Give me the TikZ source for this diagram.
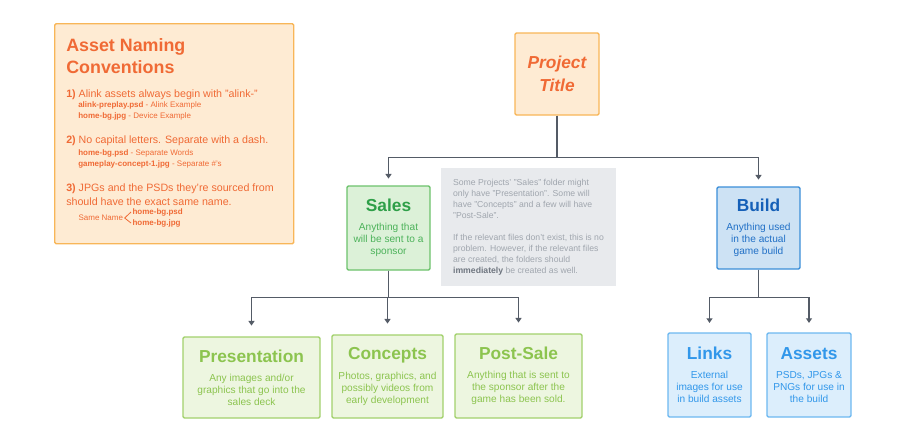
\documentclass[tikz,border=0pt]{standalone}
\usepackage{fontspec}
\setmainfont{Liberation Sans}
\usetikzlibrary{arrows.meta, positioning}
\definecolor{peachfill}{HTML}{FEEBD3}
\definecolor{peachline}{HTML}{F8B658}
\definecolor{peachtext}{HTML}{F06A35}
\definecolor{salesfill}{HTML}{DCF1D8}
\definecolor{salesline}{HTML}{6CC26B}
\definecolor{salestitle}{HTML}{2E9F48}
\definecolor{salestext}{HTML}{4CB25A}
\definecolor{subfill}{HTML}{EDF6E0}
\definecolor{subline}{HTML}{A2D16C}
\definecolor{subtext}{HTML}{8CC44F}
\definecolor{buildfill}{HTML}{CDE2F4}
\definecolor{buildline}{HTML}{3B8ED8}
\definecolor{buildtitle}{HTML}{1560B8}
\definecolor{buildtext}{HTML}{2170C6}
\definecolor{assetfill}{HTML}{DCEEFC}
\definecolor{assetline}{HTML}{6DB8F0}
\definecolor{assettext}{HTML}{3197EA}
\definecolor{notefill}{HTML}{E8EAED}
\definecolor{notetext}{HTML}{A0A6AE}
\definecolor{notebold}{HTML}{6F7680}
\definecolor{linkgray}{HTML}{545B66}
\newcommand{\descfont}{\fontsize{7.6}{9}\selectfont}
\newcommand{\boxhead}[2]{{\fontsize{13}{15}\selectfont\bfseries\color{#1}#2}\\[5.6pt]}

\begin{document}
\begin{tikzpicture}[
    x=0.75pt, y=-0.75pt,
    folder/.style={
        rectangle, line width=1.1pt, rounded corners=1pt, align=center, inner sep=2pt
    },
    titlebox/.style={
        folder, draw=peachline, fill=peachfill, text=peachtext,
        font=\fontsize{13}{17.25}\selectfont\bfseries\itshape
    },
    salesbox/.style={folder, draw=salesline, fill=salesfill, text=salestext, font=\descfont},
    subbox/.style={folder, draw=subline, fill=subfill, text=subtext, font=\descfont},
    buildbox/.style={folder, draw=buildline, fill=buildfill, text=buildtext, font=\descfont},
    assetbox/.style={folder, draw=assetline, fill=assetfill, text=assettext, font=\descfont},
    notebox/.style={
        rectangle, fill=notefill, text=notetext, align=left, inner sep=0pt,
        font=\fontsize{6.5}{8.25}\selectfont
    },
    convtext/.style={anchor=west, inner sep=0pt, text=peachtext},
    convhead/.style={convtext, align=left, font=\fontsize{13.4}{16.5}\selectfont\bfseries},
    convitem/.style={convtext, align=left, font=\fontsize{8}{10.5}\selectfont},
    convsub/.style={convtext, font=\fontsize{6}{7.5}\selectfont},
    link/.style={
        -{Triangle[width=4.5pt,length=3.5pt]}, line width=1.1pt, draw=linkgray
    }
]
\useasboundingbox (0,0) rectangle (905,440);

% Naming conventions (Top Left)
\node[rectangle, draw=peachline, fill=peachfill, line width=1.1pt, rounded corners=1pt,
      anchor=north west, minimum width=179.25pt, minimum height=165pt] (conv) at (54,23) {};
\node[convhead] (convtitle) at (66,56) {Asset Naming\\Conventions};
\node[convitem] (rulea) at (66,95) {\textbf{1)} Alink assets always begin with "alink-"};
\node[convsub] (rulea1) at (78,105) {\textbf{alink-preplay.psd} - Alink Example};
\node[convsub] (rulea2) at (78,116) {\textbf{home-bg.jpg} - Device Example};
\node[convitem] (ruleb) at (66,141) {\textbf{2)} No capital letters. Separate with a dash.};
\node[convsub] (ruleb1) at (78,153) {\textbf{home-bg.psd} - Separate Words};
\node[convsub] (ruleb2) at (78,164) {\textbf{gameplay-concept-1.jpg} - Separate \#'s};
\node[convitem] (rulec) at (66,195) {\textbf{3)} JPGs and the PSDs they're sourced from\\should have the exact same name.};
\node[convsub, inner sep=1pt] (same) at (77,218) {Same Name};
\node[convsub, inner sep=1pt] (samepsd) at (131,212) {\textbf{home-bg.psd}};
\node[convsub, inner sep=1pt] (samejpg) at (131,223) {\textbf{home-bg.jpg}};
\draw[peachtext, line width=0.6pt] (samepsd.west) -- (same.east) -- (samejpg.west);

% Project (Top Centre)
\node[titlebox, minimum width=63pt, minimum height=61.5pt] (title) at (557,74) {Project\\Title};

% Sales, note and Build (Middle)
\node[salesbox, minimum width=62.25pt, minimum height=63pt] (sales) at (388.5,228)
    {\boxhead{salestitle}{Sales}Anything that\\will be sent to a\\sponsor};
\node[notebox, minimum width=131.25pt, minimum height=88.5pt] (note) at (528.5,227)
    {Some Projects' "Sales" folder might\\only have "Presentation". Some will\\have "Concepts" and a few will have\\"Post-Sale".\\[8.25pt]%
     If the relevant files don't exist, this is no\\problem. However, if the relevant files\\are created, the folders should\\\textbf{\color{notebold}immediately} be created as well.};
\node[buildbox, minimum width=62.25pt, minimum height=61.5pt] (build) at (758.5,228)
    {\boxhead{buildtitle}{Build}Anything used\\in the actual\\game build};

% Sales folders (Bottom Left)
\node[subbox, minimum width=102.75pt, minimum height=60.75pt] (pres) at (251.5,377.5)
    {\boxhead{subtext}{Presentation}Any images and/or\\graphics that go into the\\sales deck};
\node[subbox, minimum width=83.25pt, minimum height=62.25pt] (concepts) at (387.5,376.5)
    {\boxhead{subtext}{Concepts}Photos, graphics, and\\possibly videos from\\early development};
\node[subbox, minimum width=95.25pt, minimum height=63pt] (postsale) at (518.5,376)
    {\boxhead{subtext}{Post-Sale}Anything that is sent to\\the sponsor after the\\game has been sold.};

% Build folders (Bottom Right)
\node[assetbox, minimum width=62.25pt, minimum height=63pt] (links) at (709.5,375)
    {\boxhead{assettext}{Links}External\\images for use\\in build assets};
\node[assetbox, minimum width=63pt, minimum height=63pt] (assets) at (809,375)
    {\boxhead{assettext}{Assets}PSDs, JPGs \&\\PNGs for use in\\the build};

% Connectors
\draw[link, shorten >=5pt] (title.south) -- ++(0,42) -| (sales.north);
\draw[link, shorten >=5pt] (title.south) -- ++(0,42) -| (build.north);
\draw[link, shorten >=8pt] (sales.south) -- ++(0,27) -| (pres.north);
\draw[link, shorten >=8pt] (sales.south) -- ++(0,27) -| (concepts.north);
\draw[link, shorten >=8pt] (sales.south) -- ++(0,27) -| (postsale.north);
\draw[link, shorten >=7pt] (build.south) -- ++(0,28) -| (links.north);
\draw[link, shorten >=7pt] (build.south) -- ++(0,28) -| (assets.north);

\end{tikzpicture}
\end{document}
